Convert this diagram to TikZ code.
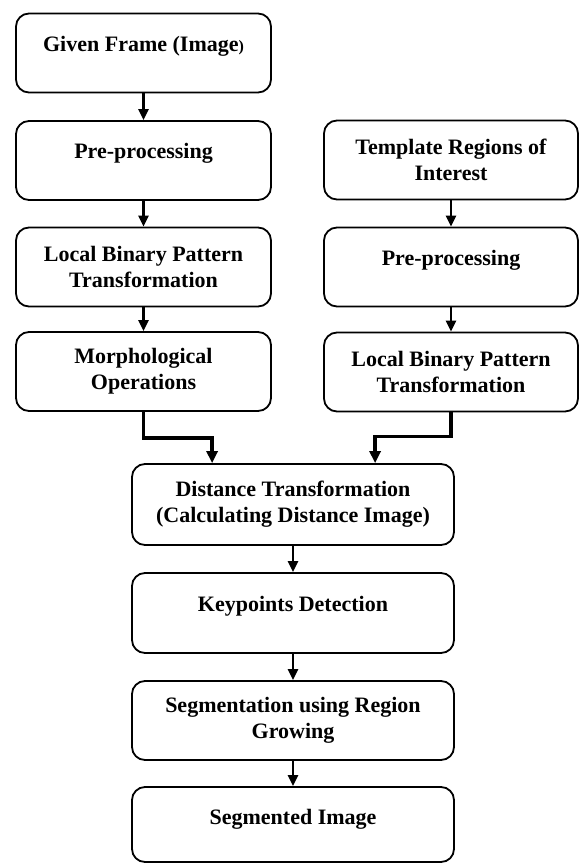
\documentclass[tikz,border=0pt]{standalone}
\usepackage{fontspec}
\setmainfont{Liberation Serif}
\usetikzlibrary{arrows.meta}
\begin{document}
\begin{tikzpicture}[x=1pt,y=-1pt,
 box/.style={draw, line width=1.8pt, rounded corners=13pt, inner sep=0pt},
 lbox/.style={box, minimum width=255pt, minimum height=79pt},
 rbox/.style={box, minimum width=254pt, minimum height=79pt},
 cbox/.style={box, minimum width=322pt, minimum height=79pt},
 txt/.style={font=\fontsize{22}{26}\selectfont\bfseries, align=center, inner sep=0pt},
 arr/.style={line width=2.4pt, -{Triangle[length=11pt,width=10pt]}},
 merge/.style={line width=3.8pt, -{Triangle[length=12pt,width=11pt]}}]
\useasboundingbox (0,0) rectangle (579,864);
% left column
\node[lbox] (L1) at (143.5,53) {};
\node[lbox] (L2) at (143.5,160.5) {};
\node[lbox] (L3) at (143.5,267) {};
\node[lbox] (L4) at (143.5,371.5) {};
% right column
\node[rbox] (R1) at (451,160) {};
\node[rbox] (R2) at (451,267) {};
\node[rbox] (R3) at (451,372) {};
% center column
\node[cbox, minimum height=81pt] (D) at (293,504.5) {};
\node[cbox, minimum height=80pt] (K) at (293,613) {};
\node[cbox] (S) at (293,720.5) {};
\node[cbox, minimum height=75pt] (SI) at (293,824.5) {};
% texts
\node[txt] (tL1) at ([yshift=7pt]L1.center) {Given Frame (Image{\fontsize{16}{16}\selectfont)}};
\node[txt] (tL2) at ([yshift=7pt]L2.center) {Pre-processing};
\node[txt] (tL3) at (L3.center) {Local Binary Pattern\\Transformation};
\node[txt] (tL4) at (L4.center) {Morphological\\Operations};
\node[txt] (tR1) at (R1.center) {Template Regions of\\Interest};
\node[txt] (tR2) at ([yshift=7pt]R2.center) {Pre-processing};
\node[txt] (tR3) at (R3.center) {Local Binary Pattern\\Transformation};
\node[txt] (tD) at (D.center) {Distance Transformation\\(Calculating Distance Image)};
\node[txt] (tK) at ([yshift=7pt]K.center) {Keypoints Detection};
\node[txt] (tS) at (S.center) {Segmentation using Region\\Growing};
\node[txt] (tSI) at ([yshift=5pt]SI.center) {Segmented Image};
% connectors
\draw[arr] (L1) -- (L2);
\draw[arr] (L2) -- (L3);
\draw[arr] (L3) -- (L4);
\draw[arr] (R1) -- (R2);
\draw[arr] (R2) -- (R3);
\draw[arr] (D) -- (K);
\draw[arr] (K) -- (S);
\draw[arr] (S) -- (SI);
\path (D.north west) ++(81,0) coordinate (dl);
\path (D.north west) ++(244,0) coordinate (dr);
\draw[merge] (L4.south) -- ++(0,26) -| (dl);
\draw[merge] (R3.south) -- ++(0,24) -| (dr);
\end{tikzpicture}
\end{document}
